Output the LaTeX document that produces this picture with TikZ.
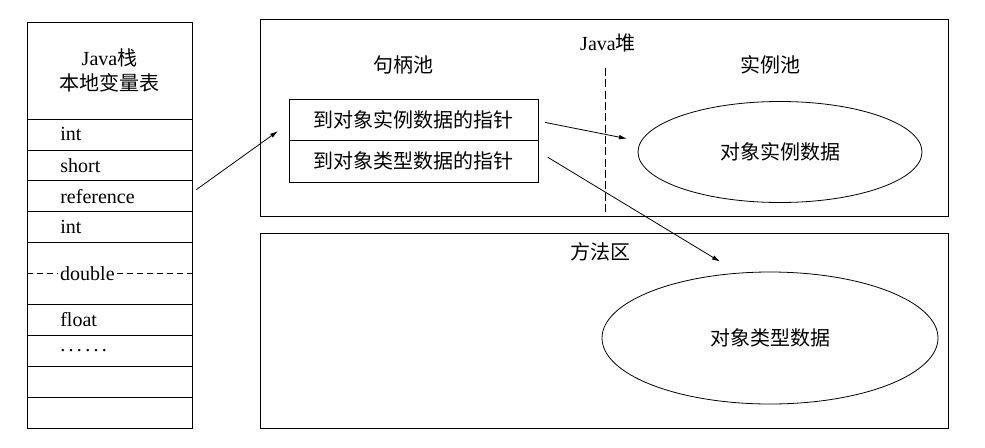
\documentclass[tikz,border=0pt]{standalone}
\usepackage{fontspec}
\setmainfont{Liberation Serif}
\newfontfamily\cjk{Noto Sans CJK SC}
\usetikzlibrary{arrows.meta, shapes.geometric}
\tikzset{
  cell/.style={
    rectangle,
    draw,
    line width=0.6pt,
    minimum width=123.75pt,
    minimum height=23.175pt,
    inner xsep=25pt,
    inner ysep=0pt,
    text width=73.75pt,
    align=left,
    font=\fontsize{15}{18}\selectfont
  },
  header/.style={
    rectangle,
    draw,
    line width=0.6pt,
    minimum width=123.75pt,
    minimum height=72.75pt,
    align=center,
    font=\fontsize{15}{18.75}\selectfont
  },
  area/.style={
    rectangle,
    draw,
    line width=0.6pt,
    minimum width=516pt,
    inner sep=0pt
  },
  ptrbox/.style={
    rectangle,
    draw,
    line width=0.6pt,
    minimum width=186.75pt,
    minimum height=31.125pt,
    inner sep=0pt,
    font=\cjk\fontsize{15}{18}\selectfont
  },
  blob/.style={
    ellipse,
    draw,
    line width=0.6pt,
    inner sep=0pt,
    font=\cjk\fontsize{15}{18}\selectfont
  },
  title/.style={font=\cjk\fontsize{15}{18}\selectfont},
  gaptext/.style={fill=white, inner xsep=2pt, inner ysep=1pt, anchor=west, font=\fontsize{15}{18}\selectfont},
  arrow/.style={-{Latex[length=6pt, width=3.5pt]}, line width=0.6pt},
  divider/.style={dash pattern=on 5pt off 2.5pt, line width=0.6pt}
}

\begin{document}
\begin{tikzpicture}[x=0.75pt,y=-0.75pt]
\useasboundingbox (0,0) rectangle (985,447);

% Java stack
\node[header] (stack) at (109.5,70.5) {Java{\cjk 栈}\\{\cjk 本地变量表}};
\node[cell] (r1) at (109.5,134.45) {int};
\node[cell] (r2) at (109.5,165.35) {short};
\node[cell] (r3) at (109.5,196.25) {reference};
\node[cell] (r4) at (109.5,227.15) {int};
\node[cell, minimum height=46.35pt] (r5) at (109.5,273.5) {};
\node[cell] (r6) at (109.5,319.85) {float};
\node[cell] (r7) at (109.5,350.75) {.\,.\,.\,.\,.\,.};
\node[cell] (r8) at (109.5,381.65) {};
\node[cell] (r9) at (109.5,412.55) {};
\draw[divider] (r5.west) -- (r5.east);
\node[gaptext] (dbl) at ([xshift=23pt]r5.west) {double};

% Java heap
\node[area, minimum height=147.75pt] (heap) at (604,117.5) {};
\node[title] (heaplabel) at (608,43) {{\rmfamily Java}堆};
\node[title] (handlelabel) at (403,65) {句柄池};
\node[title] (instlabel) at (770,65) {实例池};
\coordinate (divtop) at (605,68);
\coordinate (divbot) at (605,214);
\draw[dash pattern=on 6pt off 2.5pt, line width=0.6pt] (divtop) -- (divbot);
\node[ptrbox] (h1) at (413.5,119.75) {到对象实例数据的指针};
\node[ptrbox] (h2) at (413.5,161.25) {到对象类型数据的指针};
\node[blob, minimum width=213pt, minimum height=75.75pt] (inst) at (780,152) {对象实例数据};

% method area
\node[area, minimum height=146.25pt] (method) at (604,330.5) {};
\node[title] (methodlabel) at (600,252) {方法区};
\node[blob, minimum width=252pt, minimum height=99pt] (type) at (770,338) {对象类型数据};

\draw[arrow] ([xshift=3pt,yshift=5pt]r3.east) -- ([xshift=-8pt,yshift=-8.5pt]h1.west);
\draw[arrow] ([xshift=5pt,yshift=-2pt]h1.east) -- ([xshift=-8pt,yshift=10pt]inst.west);
\draw[arrow] ([xshift=7pt,yshift=3pt]h2.east) -- ([xshift=-37.5pt,yshift=7.5pt]type.north);
\end{tikzpicture}
\end{document}
